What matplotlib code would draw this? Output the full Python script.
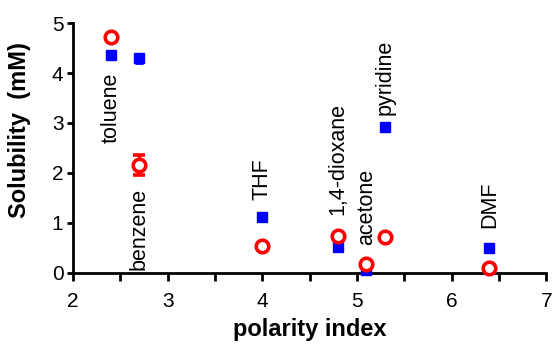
import matplotlib.pyplot as plt
import numpy as np

plt.rcParams['font.family'] = ['Liberation Sans', 'DejaVu Sans']

solvents = ["toluene", "benzene", "THF", "1,4-dioxane", "acetone", "pyridine", "DMF"]
polarity = [2.4, 2.7, 4.0, 4.8, 5.1, 5.3, 6.4]
blue_sol = [4.37, 4.30, 1.12, 0.52, 0.06, 2.92, 0.50]
blue_err = [0.0, 0.09, 0.0, 0.0, 0.0, 0.0, 0.0]
red_sol = [4.73, 2.15, 0.54, 0.73, 0.17, 0.72, 0.10]
red_err = [0.0, 0.2, 0.0, 0.0, 0.0, 0.0, 0.0]
label_y = [2.6, 0.05, 1.45, 1.15, 0.55, 3.15, 0.9]

fig = plt.figure(figsize=(5.54, 3.49), dpi=100)
ax = fig.add_axes([0.132, 0.218, 0.854, 0.716])

ax.errorbar(polarity, blue_sol, yerr=blue_err, fmt='s', color='#0000ff',
            markersize=7, capsize=3, elinewidth=2, capthick=2, zorder=3)
ax.errorbar(polarity, red_sol, yerr=red_err, fmt='o', color='#ff0000',
            mfc='white', mec='#ff0000', markersize=9, markeredgewidth=2.6,
            capsize=4.5, elinewidth=2.5, capthick=2.5, zorder=4)

for s, x, y in zip(solvents, polarity, label_y):
    ax.text(x, y, s, rotation=90, ha='center', va='bottom', fontsize=15.5)

ax.set_xlim(2, 7)
ax.set_ylim(0, 5)
ax.set_xticks([2, 3, 4, 5, 6, 7])
ax.set_xticks(np.arange(2.5, 7, 1), minor=True)
ax.set_yticks([0, 1, 2, 3, 4, 5])
for sp in ['top', 'right']:
    ax.spines[sp].set_visible(False)
for sp in ['left', 'bottom']:
    ax.spines[sp].set_linewidth(2)
ax.tick_params(which='both', width=2, labelsize=15)
ax.tick_params(axis='x', which='both', length=6, pad=8)
ax.tick_params(axis='y', length=4, pad=3)
ax.set_xlabel("polarity index", fontsize=17, fontweight='bold', labelpad=5)
ax.set_ylabel("Solubility  (mM)", fontsize=17, fontweight='bold')
ax.yaxis.set_label_coords(-0.088, 0.57)
for m in ax.get_children():
    try:
        m.set_clip_on(False)
    except Exception:
        pass

fig.savefig("out.png", dpi=100)
